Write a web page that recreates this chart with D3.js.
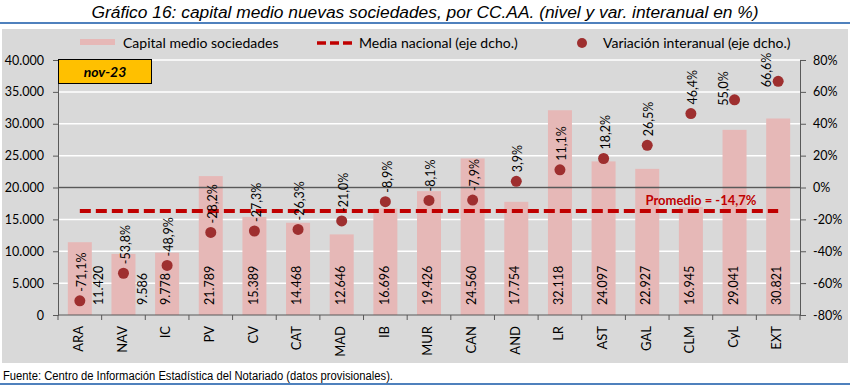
<!DOCTYPE html>
<html>
<head>
<meta charset="utf-8">
<script src="https://cdn.jsdelivr.net/npm/d3@7"></script>
<style>
  html, body { margin: 0; padding: 0; background: #ffffff; }
  svg { display: block; }
</style>
</head>
<body>
<svg id="chart" width="850" height="386"></svg>
<script>
// ---------------- DATA ----------------
const categories = ["ARA","NAV","IC","PV","CV","CAT","MAD","IB","MUR","CAN","AND","LR","AST","GAL","CLM","CyL","EXT"];
const capitalMedio = [11420, 9586, 9778, 21789, 15389, 14468, 12646, 16696, 19426, 24560, 17754, 32118, 24097, 22927, 16945, 29041, 30821];
const variacion = [-71.1, -53.8, -48.9, -28.2, -27.3, -26.3, -21.0, -8.9, -8.1, -7.9, 3.9, 11.1, 18.2, 26.5, 46.4, 55.0, 66.6];
const mediaNacional = -14.7;
const leftTicks = [0, 5000, 10000, 15000, 20000, 25000, 30000, 35000, 40000];
const rightTicks = [-80, -60, -40, -20, 0, 20, 40, 60, 80];
const periodLabel = "nov-23";
const titleText = "Gráfico 16: capital medio nuevas sociedades, por CC.AA. (nivel y var. interanual en %)";
const sourceText = "Fuente: Centro de Información Estadística del Notariado (datos provisionales).";
const legendLabels = ["Capital medio sociedades", "Media nacional (eje dcho.)", "Variación interanual (eje dcho.)"];
// categories whose labels were moved in the original
const valueLabelsBeside = ["ARA", "NAV"];
const pctLabelsLeft = ["CyL", "EXT"];

// ---------------- STYLE ----------------
const C = {
  bg: "#d9d9d9", bar: "#e6b8b7", dot: "#9e2f2f", media: "#c00000",
  axis: "#595959", grid: "#ffffff", blue: "#4f81bd", box: "#ffc000"
};
const FONT = "Lato, 'Open Sans', sans-serif";

const loc = d3.formatLocale({decimal: ",", thousands: ".", grouping: [3], currency: ["", "€"], minus: "-"});
const fmtInt = loc.format(",d");
const fmtPct = loc.format(".1f");

const svg = d3.select("#chart");
const W = 850, H = 386;
const plot = {left: 58, right: 800, top: 60, bottom: 315};

// title + rules
svg.append("text").attr("x", 425).attr("y", 18).attr("text-anchor", "middle")
  .attr("font-family", "'Liberation Sans', Arial, sans-serif").attr("font-style", "italic")
  .attr("font-size", 16).attr("textLength", 667).attr("lengthAdjust", "spacingAndGlyphs")
  .attr("fill", "#000").text(titleText);
svg.append("rect").attr("x", 0).attr("y", 22).attr("width", W).attr("height", 2).attr("fill", C.blue);
svg.append("rect").attr("x", 0).attr("y", 383).attr("width", W).attr("height", 2).attr("fill", C.blue);

// panel background
svg.append("rect").attr("x", 2).attr("y", 29).attr("width", 846).attr("height", 334).attr("fill", C.bg);

// footer
svg.append("text").attr("x", 3).attr("y", 380)
  .attr("font-family", "'Liberation Sans', Arial, sans-serif").attr("font-size", 12)
  .attr("textLength", 390).attr("lengthAdjust", "spacingAndGlyphs").attr("fill", "#000").text(sourceText);

// scales
const x = d3.scaleBand().domain(categories).range([plot.left, plot.right]).paddingInner(0.45).paddingOuter(0.225);
const yL = d3.scaleLinear().domain([0, 40000]).range([plot.bottom, plot.top]);
const yR = d3.scaleLinear().domain([-80, 80]).range([plot.bottom, plot.top]);
const cx = c => x(c) + x.bandwidth() / 2;

// gridlines
svg.append("g").selectAll("line").data(leftTicks.filter(t => t > 0)).join("line")
  .attr("x1", plot.left).attr("x2", plot.right)
  .attr("y1", d => yL(d)).attr("y2", d => yL(d))
  .attr("stroke", C.grid).attr("stroke-width", 1.5);

// bars
const rows = categories.map((c, i) => ({c, v: capitalMedio[i], p: variacion[i]}));
svg.append("g").selectAll("rect").data(rows).join("rect")
  .attr("x", d => x(d.c)).attr("width", x.bandwidth())
  .attr("y", d => yL(d.v)).attr("height", d => yL(0) - yL(d.v))
  .attr("fill", C.bar);

// zero line of right axis
svg.append("line").attr("x1", plot.left).attr("x2", plot.right)
  .attr("y1", yR(0)).attr("y2", yR(0)).attr("stroke", C.axis).attr("stroke-width", 1.5);

// media line
svg.append("line").attr("x1", cx(categories[0])).attr("x2", cx(categories[categories.length - 1]))
  .attr("y1", yR(mediaNacional)).attr("y2", yR(mediaNacional))
  .attr("stroke", C.media).attr("stroke-width", 4).attr("stroke-dasharray", "11,5");
svg.append("text").attr("x", 701).attr("y", yR(mediaNacional) - 6).attr("text-anchor", "middle")
  .attr("font-family", FONT).attr("font-weight", "bold").attr("font-size", 13).attr("fill", C.media)
  .text("Promedio = " + fmtPct(mediaNacional) + "%");

// dots
svg.append("g").selectAll("circle").data(rows).join("circle")
  .attr("cx", d => cx(d.c)).attr("cy", d => yR(d.p)).attr("r", 5.5).attr("fill", C.dot);

// value labels
svg.append("g").selectAll("text").data(rows).join("text")
  .attr("transform", d => `translate(${cx(d.c) + (valueLabelsBeside.includes(d.c) ? 20 : 0)},305) rotate(-90)`)
  .attr("text-anchor", "start").attr("dominant-baseline", "middle")
  .attr("font-family", FONT).attr("font-size", 12.5).attr("fill", "#000")
  .text(d => fmtInt(d.v));

// pct labels
svg.append("g").selectAll("text").data(rows).join("text")
  .attr("transform", d => {
    const left = pctLabelsLeft.includes(d.c);
    const tx = cx(d.c) + (left ? -10 : 3);
    const ty = yR(d.p) + (left ? 6 : -9);
    return `translate(${tx},${ty}) rotate(-90)`;
  })
  .attr("text-anchor", "start").attr("dominant-baseline", "middle")
  .attr("font-family", FONT).attr("font-size", 12.5).attr("fill", "#000")
  .text(d => fmtPct(d.p) + "%");

// left axis
const gL = svg.append("g").attr("transform", `translate(${plot.left},0)`)
  .call(d3.axisLeft(yL).tickValues(leftTicks).tickSize(5).tickPadding(9).tickFormat(d => fmtInt(d)));
gL.select(".domain").attr("stroke", C.axis);
gL.selectAll(".tick line").attr("stroke", C.axis);
gL.selectAll(".tick text").attr("font-family", FONT).attr("font-size", 12.5).attr("fill", "#000");

// right axis
const gR = svg.append("g").attr("transform", `translate(${plot.right},0)`)
  .call(d3.axisRight(yR).tickValues(rightTicks).tickSize(6).tickPadding(7).tickFormat(d => d + "%"));
gR.select(".domain").attr("stroke", C.axis);
gR.selectAll(".tick line").attr("stroke", C.axis);
gR.selectAll(".tick text").attr("font-family", FONT).attr("font-size", 12.5).attr("fill", "#000");

// x axis
const gX = svg.append("g");
gX.append("line").attr("x1", plot.left).attr("x2", plot.right).attr("y1", plot.bottom).attr("y2", plot.bottom)
  .attr("stroke", C.axis);
const bounds = categories.map(c => x(c) - x.step() * x.paddingInner() / 2).concat([plot.right]);
gX.selectAll("line.tk").data(bounds).join("line").attr("class", "tk")
  .attr("x1", d => d).attr("x2", d => d).attr("y1", plot.bottom).attr("y2", plot.bottom + 5)
  .attr("stroke", C.axis);
gX.selectAll("text").data(categories).join("text")
  .attr("transform", c => `translate(${cx(c)},326) rotate(-90)`)
  .attr("text-anchor", "end").attr("dominant-baseline", "middle")
  .attr("font-family", FONT).attr("font-size", 13).attr("fill", "#000").text(c => c);

// legend
const lg = svg.append("g").attr("font-family", FONT).attr("font-size", 14).attr("fill", "#000");
lg.append("rect").attr("x", 80).attr("y", 39).attr("width", 35).attr("height", 6).attr("fill", C.bar);
lg.append("text").attr("x", 123).attr("y", 47.5).text(legendLabels[0]);
lg.append("line").attr("x1", 317).attr("x2", 352).attr("y1", 43).attr("y2", 43)
  .attr("stroke", C.media).attr("stroke-width", 3.5).attr("stroke-dasharray", "9,4");
lg.append("text").attr("x", 359).attr("y", 47.5).text(legendLabels[1]);
lg.append("circle").attr("cx", 582).attr("cy", 43).attr("r", 5).attr("fill", C.dot);
lg.append("text").attr("x", 603).attr("y", 47.5).text(legendLabels[2]);

// period box
svg.append("rect").attr("x", 58.5).attr("y", 59.5).attr("width", 93).attr("height", 24)
  .attr("fill", C.box).attr("stroke", "#000").attr("stroke-width", 1);
svg.append("text").attr("x", 105).attr("y", 77).attr("text-anchor", "middle")
  .attr("font-family", FONT).attr("font-weight", "bold").attr("font-style", "italic")
  .attr("font-size", 14).attr("fill", "#000").text(periodLabel);
</script>
</body>
</html>
